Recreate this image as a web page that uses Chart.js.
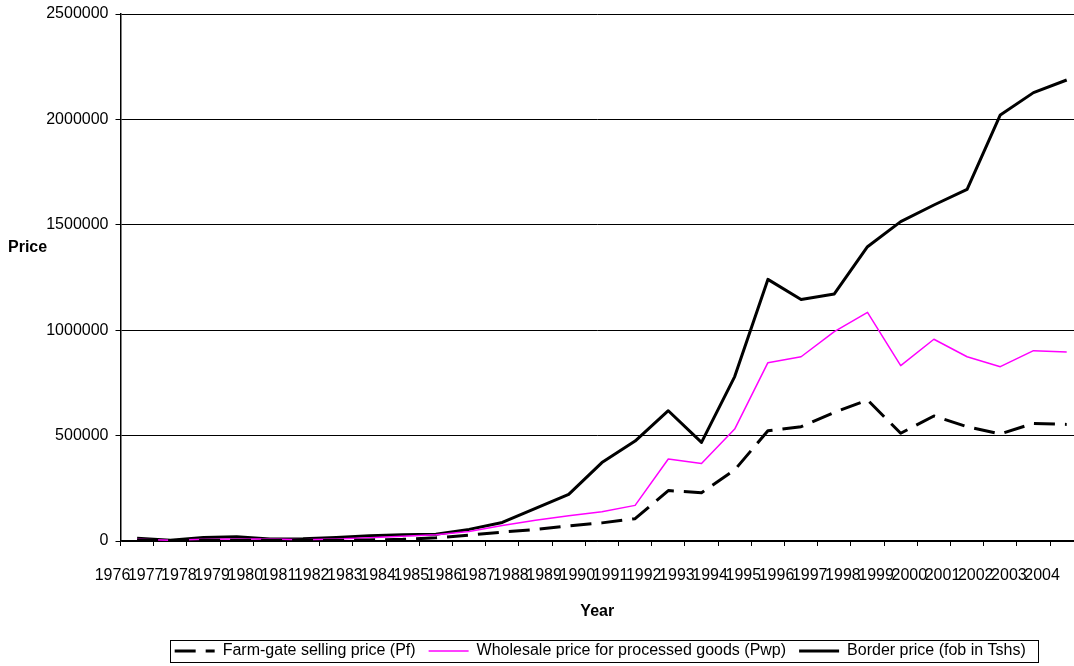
<!DOCTYPE html>
<html>
<head>
<meta charset="utf-8">
<script src="https://cdn.jsdelivr.net/npm/chart.js@4.4.1/dist/chart.umd.min.js"></script>
<style>
  html, body { margin: 0; padding: 0; background: #fff; overflow: hidden; }
  #wrap { width: 1074px; height: 666px; }
</style>
</head>
<body>
<div id="wrap"><canvas id="c" width="1074" height="666"></canvas></div>
<script>
// Years on the category axis
const years = [1976, 1977, 1978, 1979, 1980, 1981, 1982, 1983, 1984, 1985,
               1986, 1987, 1988, 1989, 1990, 1991, 1992, 1993, 1994, 1995,
               1996, 1997, 1998, 1999, 2000, 2001, 2002, 2003, 2004];

// Farm-gate selling price (Pf)
const farmGate = [4000, 2000, 3000, 3000, 3000, 2000, 3000, 5000, 8000, 15000,
                  28000, 42000, 55000, 72000, 86000, 106000, 239000, 229000, 337000, 523000,
                  542000, 610000, 669000, 511000, 593000, 542000, 508000, 558000, 553000];

// Wholesale price for processed goods (Pwp)
const wholesale = [8000, 4000, 8000, 9000, 9000, 6000, 10000, 15000, 22000, 30000,
                   45000, 74000, 98000, 120000, 139000, 169000, 389000, 368000, 531000, 846000,
                   874000, 993000, 1085000, 832000, 957000, 874000, 827000, 903000, 897000];

// Border price (fob in Tshs)
const borderPrice = [13000, 3000, 17000, 20000, 9000, 11000, 17000, 25000, 30000, 32000,
                     55000, 88000, 155000, 221000, 372000, 474000, 618000, 468000, 780000, 1241000,
                     1146000, 1172000, 1396000, 1515000, 1594000, 1668000, 2021000, 2127000, 2187000];

// Value axis ticks
const yTicks = [0, 500000, 1000000, 1500000, 2000000, 2500000];

const FONT = "'Liberation Sans', Arial, Helvetica, sans-serif";
Chart.defaults.font.family = FONT;
Chart.defaults.font.size = 16;
Chart.defaults.color = '#000';

const toPoints = arr => arr.map((v, i) => ({ x: years[i], y: v }));

// Legend entries take their stroke (width and dash) from the dataset line
const baseLabels = Chart.defaults.plugins.legend.labels.generateLabels;
function lineLabels(chart) {
  return baseLabels(chart).map(item => {
    const ds = chart.data.datasets[item.datasetIndex];
    item.lineDash = ds.borderDash || [];
    item.lineWidth = ds.borderWidth;
    item.strokeStyle = ds.borderColor;
    item.lineCap = 'butt';
    return item;
  });
}

// Horizontal "Price" caption and a frame around the legend
const decorations = {
  id: 'decorations',
  afterUpdate(chart) {
    const lg = chart.legend;
    if (!lg) return;
    const dx = 3, dy = 3;
    lg.left += dx; lg.right += dx;
    lg.top += dy; lg.bottom += dy;
    (lg.legendHitBoxes || []).forEach(h => { h.left += dx; h.top += dy; });
  },
  afterDraw(chart) {
    const ctx = chart.ctx;
    ctx.save();
    ctx.font = "bold 16px " + FONT;
    ctx.fillStyle = '#000';
    ctx.textAlign = 'left';
    ctx.textBaseline = 'middle';
    ctx.fillText('Price', 8, 248);

    const hb = chart.legend.legendHitBoxes;
    if (hb && hb.length) {
      const l = Math.min(...hb.map(h => h.left)) - 5;
      const r = Math.max(...hb.map(h => h.left + h.width)) + 12;
      const t = hb[0].top - 3;
      const b = hb[0].top + hb[0].height + 3;
      ctx.strokeStyle = '#000';
      ctx.lineWidth = 1;
      ctx.strokeRect(Math.round(l) + 0.5, Math.round(t) + 0.5, Math.round(r - l), Math.round(b - t));
    }
    ctx.restore();
  }
};

new Chart(document.getElementById('c'), {
  type: 'line',
  data: {
    datasets: [
      {
        label: 'Farm-gate selling price (Pf)',
        data: toPoints(farmGate),
        borderColor: '#000',
        backgroundColor: '#000',
        borderWidth: 3,
        borderDash: [21, 10],
        pointRadius: 0,
        tension: 0
      },
      {
        label: 'Wholesale price for processed goods (Pwp)',
        data: toPoints(wholesale),
        borderColor: '#FF00FF',
        backgroundColor: '#FF00FF',
        borderWidth: 1.5,
        pointRadius: 0,
        tension: 0
      },
      {
        label: 'Border price (fob in Tshs)',
        data: toPoints(borderPrice),
        borderColor: '#000',
        backgroundColor: '#000',
        borderWidth: 3,
        pointRadius: 0,
        tension: 0
      }
    ]
  },
  options: {
    responsive: false,
    animation: false,
    devicePixelRatio: 1,
    layout: { padding: { top: 14, left: 0, right: 0, bottom: 0 } },
    elements: { line: { borderJoinStyle: 'round', borderCapStyle: 'butt' } },
    plugins: {
      tooltip: { enabled: false },
      legend: {
        position: 'bottom',
        fullSize: false,
        labels: {
          usePointStyle: true,
          pointStyle: 'line',
          pointStyleWidth: 40,
          boxHeight: 16,
          padding: 13,
          color: '#000',
          font: { size: 16 },
          generateLabels: lineLabels
        }
      }
    },
    scales: {
      x: {
        type: 'linear',
        min: 1975.5,
        max: 2004.22,
        afterBuildTicks: s => { s.ticks = years.map(y => ({ value: y - 0.5 })); },
        afterFit: s => { s.paddingLeft = 0; s.paddingRight = 0; s.height = 86; },
        ticks: {
          autoSkip: false,
          maxRotation: 0,
          minRotation: 0,
          padding: 20,
          labelOffset: -8,
          color: '#000',
          font: { size: 16 },
          callback: (v, i) => String(years[i])
        },
        grid: { drawOnChartArea: false, drawTicks: true, tickLength: 5, color: '#000', lineWidth: 1 },
        border: { display: true, color: '#000', width: 1.5 },
        title: { display: true, text: 'Year', color: '#000', font: { size: 16, weight: 'bold' }, padding: { top: 4, bottom: 6 } }
      },
      y: {
        min: 0,
        max: 2500000,
        afterBuildTicks: s => { s.ticks = yTicks.map(v => ({ value: v })); },
        afterFit: s => { s.width = 120.5; s.paddingTop = 0; s.paddingBottom = 0; },
        ticks: { padding: 7, color: '#000', font: { size: 16 }, callback: v => String(v) },
        grid: { color: '#000', lineWidth: 1, tickLength: 5 },
        border: { display: true, color: '#000', width: 1.5 }
      }
    }
  },
  plugins: [decorations]
});
</script>
</body>
</html>
